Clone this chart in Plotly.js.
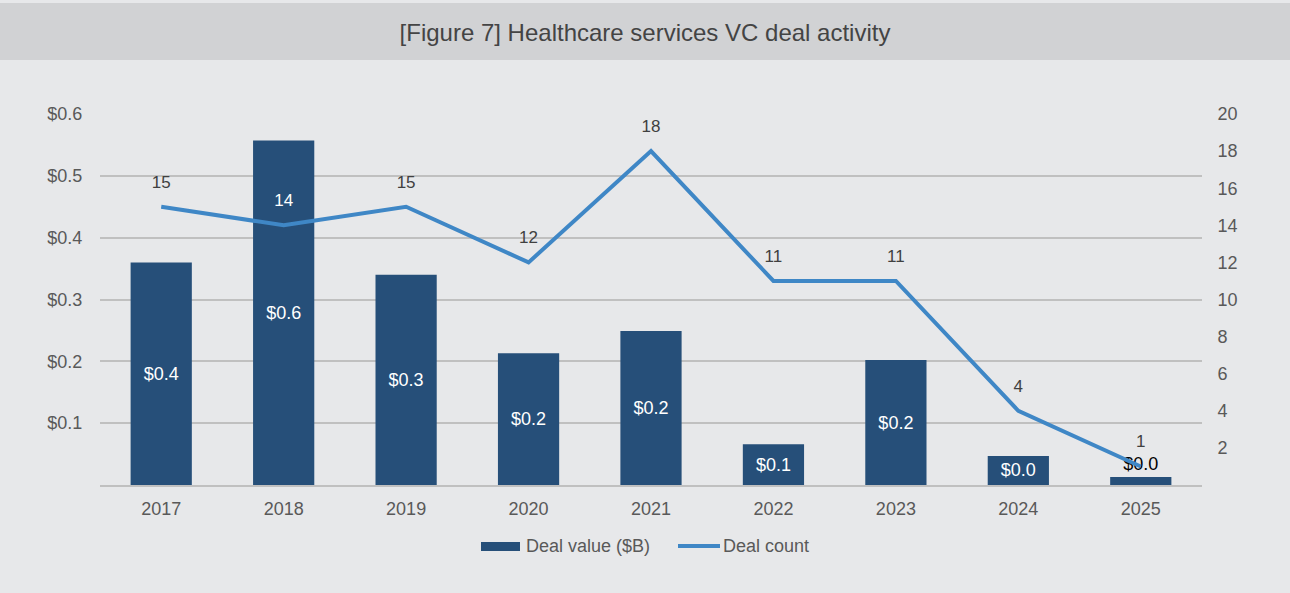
<!DOCTYPE html>
<html>
<head>
<meta charset="utf-8">
<script src="https://cdn.plot.ly/plotly-3.0.1.min.js"></script>
<style>
  html, body { margin: 0; padding: 0; background: #e7e8ea; }
  #chart { width: 1290px; height: 593px; }
</style>
</head>
<body>
<div id="chart"></div>
<script>
const years = ['2017', '2018', '2019', '2020', '2021', '2022', '2023', '2024', '2025'];
const dealValue = [0.36, 0.557, 0.34, 0.213, 0.249, 0.066, 0.202, 0.047, 0.013];
const dealCount = [15, 14, 15, 12, 18, 11, 11, 4, 1];
const leftTicks = [0.1, 0.2, 0.3, 0.4, 0.5, 0.6];
const leftTickText = ['$0.1', '$0.2', '$0.3', '$0.4', '$0.5', '$0.6'];
const rightTicks = [2, 4, 6, 8, 10, 12, 14, 16, 18, 20];
const seriesNames = ['Deal value ($B)', 'Deal count'];

const barColor = '#264f79';
const lineColor = '#3f87c6';
const textGray = '#595959';
const FONT = 'Liberation Sans, Arial, Helvetica, sans-serif';

// plot-area geometry (pixels) used to place the header band and custom legend
const W = 1290, H = 593;
const M = { l: 100, r: 88, t: 114, b: 108 };
const PW = W - M.l - M.r, PH = H - M.t - M.b;
const px = x => (x - M.l) / PW;
const py = y => (H - M.b - y) / PH;

const barText = dealValue.map(v => '$' + v.toFixed(1));
const barTextPos = dealValue.map(v => v < 0.03 ? 'outside' : 'inside');
const barTextColor = dealValue.map(v => v < 0.03 ? '#000000' : '#ffffff');
const lineTextColor = dealCount.map((c, i) => (dealValue[i] / 0.6 * 20 > c + 2) ? '#ffffff' : '#404040');

const traces = [
  {
    type: 'bar',
    name: seriesNames[0],
    x: years,
    y: dealValue,
    marker: { color: barColor },
    text: barText,
    textposition: barTextPos,
    insidetextanchor: 'middle',
    textfont: { color: barTextColor, size: 18, family: FONT },
    outsidetextfont: { color: '#000000', size: 18, family: FONT },
    cliponaxis: false,
    hoverinfo: 'skip'
  },
  {
    type: 'scatter',
    mode: 'lines+markers+text',
    name: seriesNames[1],
    x: years,
    y: dealCount,
    yaxis: 'y2',
    line: { color: lineColor, width: 4 },
    marker: { size: 22, color: lineColor, opacity: 0 },
    text: dealCount.map(String),
    textposition: 'top center',
    textfont: { color: lineTextColor, size: 17, family: FONT },
    cliponaxis: false,
    hoverinfo: 'skip'
  }
];

const layout = {
  width: W,
  height: H,
  paper_bgcolor: '#e7e8ea',
  plot_bgcolor: '#e7e8ea',
  font: { family: FONT, color: textGray, size: 18 },
  margin: M,
  title: {
    text: '[Figure 7] Healthcare services VC deal activity',
    font: { size: 24, color: '#444444', family: FONT },
    x: 0.5, xanchor: 'center',
    y: 1 - 33 / H, yanchor: 'middle'
  },
  bargap: 0.5,
  showlegend: false,
  xaxis: {
    type: 'category',
    range: [-0.5, years.length - 0.5],
    showgrid: false,
    showline: true,
    linecolor: '#c0c0c0',
    linewidth: 2,
    ticks: 'outside',
    ticklen: 6,
    tickcolor: 'rgba(0,0,0,0)',
    tickfont: { size: 18, color: textGray },
    fixedrange: true
  },
  yaxis: {
    range: [0, 0.6],
    tickvals: leftTicks,
    ticktext: leftTickText,
    showgrid: true,
    gridcolor: '#c0c0c0',
    gridwidth: 2,
    zeroline: false,
    ticks: 'outside',
    ticklen: 13,
    tickcolor: 'rgba(0,0,0,0)',
    tickfont: { size: 18, color: textGray },
    fixedrange: true
  },
  yaxis2: {
    range: [0, 20],
    overlaying: 'y',
    side: 'right',
    tickvals: rightTicks,
    showgrid: false,
    zeroline: false,
    ticks: 'outside',
    ticklen: 11,
    tickcolor: 'rgba(0,0,0,0)',
    tickfont: { size: 18, color: textGray },
    fixedrange: true
  },
  shapes: [
    {
      type: 'rect', xref: 'paper', yref: 'paper', layer: 'below',
      x0: px(0), x1: px(W),
      y0: py(60), y1: py(3),
      fillcolor: '#d1d2d4', line: { width: 0 }
    },
    // custom legend swatches
    {
      type: 'rect', xref: 'paper', yref: 'paper',
      x0: px(481), x1: px(520), y0: py(551), y1: py(542),
      fillcolor: barColor, line: { width: 0 }
    },
    {
      type: 'line', xref: 'paper', yref: 'paper',
      x0: px(678), x1: px(720), y0: py(546), y1: py(546),
      line: { color: lineColor, width: 4 }
    }
  ],
  annotations: [
    {
      xref: 'paper', yref: 'paper', x: px(524), y: py(546),
      xanchor: 'left', yanchor: 'middle', showarrow: false,
      text: seriesNames[0], font: { size: 18, color: textGray, family: FONT }
    },
    {
      xref: 'paper', yref: 'paper', x: px(721), y: py(546),
      xanchor: 'left', yanchor: 'middle', showarrow: false,
      text: seriesNames[1], font: { size: 18, color: textGray, family: FONT }
    }
  ]
};

Plotly.newPlot('chart', traces, layout, { displayModeBar: false, staticPlot: true });
</script>
</body>
</html>
